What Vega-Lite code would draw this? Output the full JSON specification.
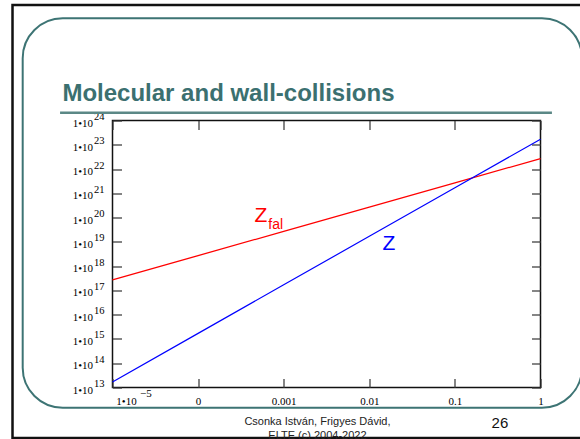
{
  "$schema": "https://vega.github.io/schema/vega-lite/v6.json",
  "width": 428,
  "height": 267,
  "autosize": {"type": "none"},
  "padding": {"left": 112.5, "top": 120.5, "right": 39.5, "bottom": 51.5},
  "background": "white",
  "config": {
    "view": {"stroke": "#111111", "strokeWidth": 1.5},
    "axis": {"grid": false, "domain": false, "title": null, "labelOverlap": false, "labelFont": "Liberation Serif", "labelColor": "#000000", "labelFontSize": 11, "tickColor": "#333333", "tickWidth": 1.2}
  },
  "datasets": {
    "curves": [
      {"s": "Zfal", "p": 1e-5, "z": 2.7e17},
      {"s": "Zfal", "p": 1e-4, "z": 2.7e18},
      {"s": "Zfal", "p": 1e-3, "z": 2.7e19},
      {"s": "Zfal", "p": 1e-2, "z": 2.7e20},
      {"s": "Zfal", "p": 1e-1, "z": 2.7e21},
      {"s": "Zfal", "p": 1, "z": 2.7e22},
      {"s": "Z", "p": 1e-5, "z": 1.7e13},
      {"s": "Z", "p": 1e-4, "z": 1.7e15},
      {"s": "Z", "p": 1e-3, "z": 1.7e17},
      {"s": "Z", "p": 1e-2, "z": 1.7e19},
      {"s": "Z", "p": 1e-1, "z": 1.7e21},
      {"s": "Z", "p": 1, "z": 1.7e23}
    ]
  },
  "layer": [
    {
      "data": {"values": [{}]},
      "mark": {"type": "rect", "filled": false, "stroke": "#111111", "strokeWidth": 2.5},
      "encoding": {
        "x": {"datum": 6.79e-7, "type": "quantitative", "scale": {"type": "log", "domain": [1e-5, 1], "nice": false}, "axis": null},
        "x2": {"datum": 4.95},
        "y": {"datum": 5.75e28, "type": "quantitative", "scale": {"type": "log", "domain": [1e13, 1e24], "nice": false}, "axis": null},
        "y2": {"datum": 8.3e10}
      }
    },
    {
      "data": {"values": [{}]},
      "mark": {"type": "rect", "filled": false, "stroke": "#3d7474", "strokeWidth": 2, "cornerRadius": 40},
      "encoding": {
        "x": {"datum": 8.93e-7, "type": "quantitative", "scale": {"type": "log", "domain": [1e-5, 1], "nice": false}, "axis": null},
        "x2": {"datum": 3.05},
        "y": {"datum": 1.63e28, "type": "quantitative", "scale": {"type": "log", "domain": [1e13, 1e24], "nice": false}, "axis": null},
        "y2": {"datum": 1.47e12}
      }
    },
    {
      "data": {"values": [{}]},
      "mark": {"type": "rule", "stroke": "#5b8886", "strokeWidth": 2.5},
      "encoding": {
        "x": {"datum": 2.44e-6, "type": "quantitative", "scale": {"type": "log", "domain": [1e-5, 1], "nice": false}, "axis": null},
        "x2": {"datum": 1.36},
        "y": {"datum": 2.08e24, "type": "quantitative", "scale": {"type": "log", "domain": [1e13, 1e24], "nice": false}, "axis": null}
      }
    },
    {
      "data": {"values": [{"t": "Molecular and wall-collisions", "p": 2.6e-6, "z": 6.56e24}]},
      "mark": {"type": "text", "align": "left", "baseline": "alphabetic", "font": "Liberation Sans", "fontSize": 24, "fontWeight": "bold", "color": "#3b7070"},
      "encoding": {
        "x": {"field": "p", "type": "quantitative", "scale": {"type": "log", "domain": [1e-5, 1], "nice": false}, "axis": null},
        "y": {"field": "z", "type": "quantitative", "scale": {"type": "log", "domain": [1e13, 1e24], "nice": false}, "axis": null},
        "text": {"field": "t"}
      }
    },
    {
      "data": {"name": "curves"},
      "mark": {"type": "line", "strokeWidth": 1.2},
      "encoding": {
        "x": {"field": "p", "type": "quantitative", "scale": {"type": "log", "domain": [1e-5, 1], "nice": false},
          "axis": {"orient": "bottom", "values": [1e-5, 1e-4, 1e-3, 1e-2, 1e-1, 1], "labels": false, "tickSize": -9}},
        "y": {"field": "z", "type": "quantitative", "scale": {"type": "log", "domain": [1e13, 1e24], "nice": false},
          "axis": {"orient": "left", "values": [1e13, 1e14, 1e15, 1e16, 1e17, 1e18, 1e19, 1e20, 1e21, 1e22, 1e23, 1e24], "labels": false, "tickSize": -9}},
        "color": {"field": "s", "type": "nominal", "scale": {"domain": ["Zfal", "Z"], "range": ["#ff0000", "#0000ff"]}, "legend": null}
      }
    },
    {
      "data": {"name": "curves"},
      "mark": {"type": "point", "opacity": 0},
      "encoding": {
        "x": {"field": "p", "type": "quantitative", "scale": {"type": "log", "domain": [1e-5, 1], "nice": false},
          "axis": {"orient": "top", "values": [1e-5, 1e-4, 1e-3, 1e-2, 1e-1, 1], "labels": false, "tickSize": -9}},
        "y": {"field": "z", "type": "quantitative", "scale": {"type": "log", "domain": [1e13, 1e24], "nice": false},
          "axis": {"orient": "right", "values": [1e13, 1e14, 1e15, 1e16, 1e17, 1e18, 1e19, 1e20, 1e21, 1e22, 1e23, 1e24], "labels": false, "tickSize": -9}}
      }
    },
    {
      "data": {"name": "curves"},
      "mark": {"type": "point", "opacity": 0},
      "encoding": {
        "x": {"field": "p", "type": "quantitative", "scale": {"type": "log", "domain": [1e-5, 1], "nice": false},
          "axis": {"orient": "bottom", "values": [1e-5, 1e-4, 1e-3, 1e-2, 1e-1, 1], "ticks": false, "labelPadding": 8, "labelAlign": "center",
            "labelOffset": {"condition": {"test": "datum.value < 5e-5", "value": 13.5}, "value": 0},
            "labelExpr": "datum.value < 5e-5 ? '1•10' : datum.value < 5e-4 ? '0' : datum.value < 5e-3 ? '0.001' : datum.value < 5e-2 ? '0.01' : datum.value < 0.5 ? '0.1' : '1'"}},
        "y": {"field": "z", "type": "quantitative", "scale": {"type": "log", "domain": [1e13, 1e24], "nice": false},
          "axis": {"orient": "left", "values": [1e13, 1e14, 1e15, 1e16, 1e17, 1e18, 1e19, 1e20, 1e21, 1e22, 1e23, 1e24], "ticks": false, "labelPadding": 20, "labelOffset": 2.5, "labelExpr": "'1•10'"}}
      }
    },
    {
      "data": {"name": "curves"},
      "mark": {"type": "point", "opacity": 0},
      "encoding": {
        "x": {"field": "p", "type": "quantitative", "scale": {"type": "log", "domain": [1e-5, 1], "nice": false},
          "axis": {"orient": "bottom", "values": [1e-5], "ticks": false, "labelPadding": 0, "labelOffset": 27, "labelFontSize": 11, "labelExpr": "'−5'"}},
        "y": {"field": "z", "type": "quantitative", "scale": {"type": "log", "domain": [1e13, 1e24], "nice": false},
          "axis": {"orient": "left", "values": [1e13, 1e14, 1e15, 1e16, 1e17, 1e18, 1e19, 1e20, 1e21, 1e22, 1e23, 1e24], "ticks": false, "labelPadding": 8.5, "labelOffset": -4, "labelFontSize": 10.5, "labelExpr": "format(round(log(datum.value) / LN10), 'd')"}}
      }
    },
    {
      "data": {"values": [{"s": "Zfal", "t": "Z", "p": 5.41e-4, "z": 1.2e20}, {"s": "Z", "t": "Z", "p": 0.0169, "z": 7.8e18}]},
      "mark": {"type": "text", "align": "center", "baseline": "middle", "font": "Liberation Sans", "fontSize": 21},
      "encoding": {
        "x": {"field": "p", "type": "quantitative", "scale": {"type": "log", "domain": [1e-5, 1], "nice": false}, "axis": null},
        "y": {"field": "z", "type": "quantitative", "scale": {"type": "log", "domain": [1e13, 1e24], "nice": false}, "axis": null},
        "text": {"field": "t"},
        "color": {"field": "s", "type": "nominal", "legend": null}
      }
    },
    {
      "data": {"values": [{"s": "Zfal", "t": "fal", "p": 6.6e-4, "z": 5.1e19}]},
      "mark": {"type": "text", "align": "left", "baseline": "middle", "font": "Liberation Sans", "fontSize": 14},
      "encoding": {
        "x": {"field": "p", "type": "quantitative", "scale": {"type": "log", "domain": [1e-5, 1], "nice": false}, "axis": null},
        "y": {"field": "z", "type": "quantitative", "scale": {"type": "log", "domain": [1e13, 1e24], "nice": false}, "axis": null},
        "text": {"field": "t"},
        "color": {"field": "s", "type": "nominal", "legend": null}
      }
    },
    {
      "data": {"values": [{"t": "Csonka István, Frigyes Dávid,", "p": 2.48e-3, "z": 3.9e11}, {"t": "ELTE (c) 2004-2022", "p": 2.48e-3, "z": 1.0e11}]},
      "mark": {"type": "text", "align": "center", "baseline": "middle", "font": "Liberation Sans", "fontSize": 11, "color": "#222222"},
      "encoding": {
        "x": {"field": "p", "type": "quantitative", "scale": {"type": "log", "domain": [1e-5, 1], "nice": false}, "axis": null},
        "y": {"field": "z", "type": "quantitative", "scale": {"type": "log", "domain": [1e13, 1e24], "nice": false}, "axis": null},
        "text": {"field": "t"}
      }
    },
    {
      "data": {"values": [{"t": "26", "p": 0.336, "z": 3.29e11}]},
      "mark": {"type": "text", "align": "center", "baseline": "middle", "font": "Liberation Sans", "fontSize": 15, "color": "#111111"},
      "encoding": {
        "x": {"field": "p", "type": "quantitative", "scale": {"type": "log", "domain": [1e-5, 1], "nice": false}, "axis": null},
        "y": {"field": "z", "type": "quantitative", "scale": {"type": "log", "domain": [1e13, 1e24], "nice": false}, "axis": null},
        "text": {"field": "t"}
      }
    }
  ],
  "resolve": {"axis": {"x": "independent", "y": "independent"}}
}
